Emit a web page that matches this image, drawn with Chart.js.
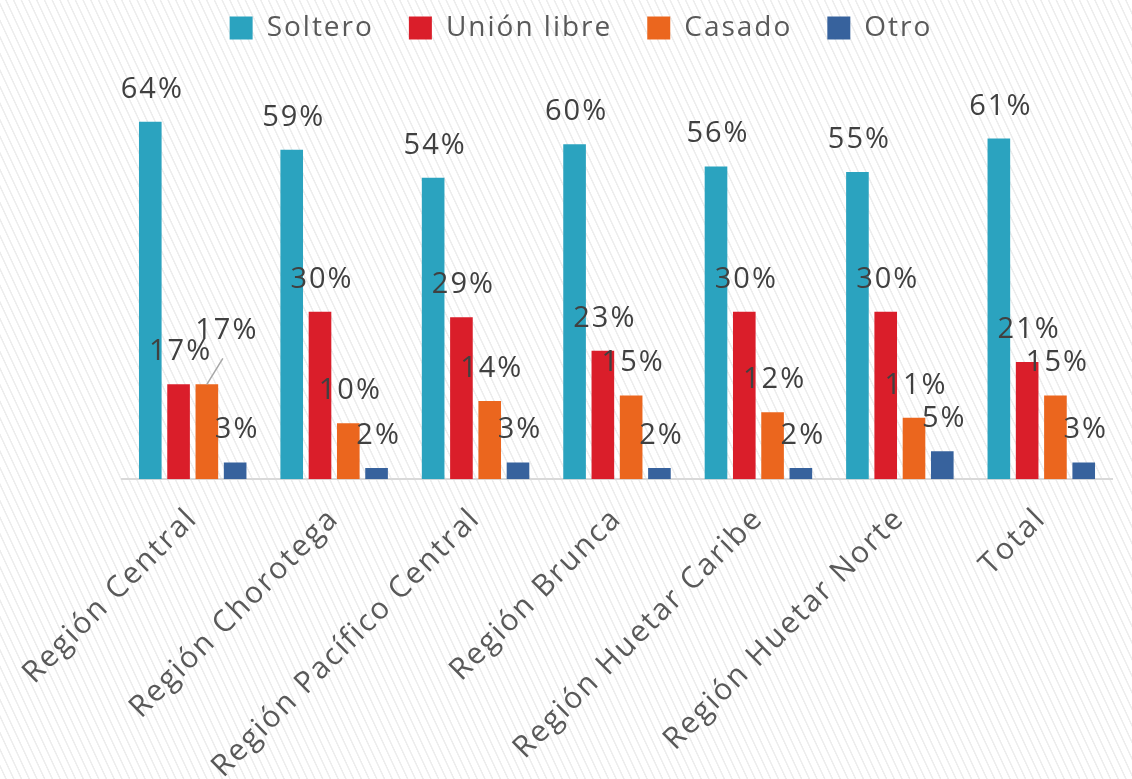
<!DOCTYPE html>
<html>
<head>
<meta charset="utf-8">
<script src="https://cdn.jsdelivr.net/npm/chart.js@4.4.1/dist/chart.umd.min.js"></script>
<style>
    html, body {
        margin: 0;
        padding: 0;
        width: 1132px;
        height: 779px;
        overflow: hidden;
        background-color: #ffffff;
        background-image: repeating-linear-gradient(65deg, #ffffff 0px, #ffffff 4.5px, #ededed 5px, #ededed 6px, #ffffff 6.5px, #ffffff 7px);
    }
    #wrap { position: relative; width: 1132px; height: 779px; }
</style>
</head>
<body>
<div id="wrap"><canvas id="chart"></canvas></div>
<script>
// Data
const regiones = ['Región Central', 'Región Chorotega', 'Región Pacífico Central', 'Región Brunca', 'Región Huetar Caribe', 'Región Huetar Norte', 'Total'];
const soltero = [64, 59, 54, 60, 56, 55, 61];
const unionLibre = [17, 30, 29, 23, 30, 30, 21];
const casado = [17, 10, 14, 15, 12, 11, 15];
const otro = [3, 2, 3, 2, 2, 5, 3];

const textColor = '#404040';
const fontFamily = "'Open Sans', 'Noto Sans', sans-serif";
const spacing = '2px';

// letter spacing has to be set again after every canvas resize
const spacingPlugin = {
    id: 'spacing',
    beforeLayout(chart) { chart.ctx.letterSpacing = spacing; },
    beforeDraw(chart) { chart.ctx.letterSpacing = spacing; }
};

// Value labels over the bars
const valueLabels = {
    id: 'valueLabels',
    afterDatasetsDraw(chart) {
        const ctx = chart.ctx;
        ctx.save();
        ctx.letterSpacing = spacing;
        ctx.font = '29px ' + fontFamily;
        ctx.fillStyle = textColor;
        ctx.textAlign = 'center';
        ctx.textBaseline = 'alphabetic';
        chart.data.datasets.forEach((ds, i) => {
            const meta = chart.getDatasetMeta(i);
            meta.data.forEach((bar, j) => {
                let x = bar.x + 2;
                let y = bar.y - 24;
                // the second 17% in Región Central was moved up with a leader line
                if (i === 2 && j === 0) {
                    ctx.save();
                    ctx.strokeStyle = '#a6a6a6';
                    ctx.lineWidth = 1.5;
                    ctx.beginPath();
                    ctx.moveTo(bar.x, bar.y);
                    ctx.lineTo(bar.x + 16, bar.y - 26);
                    ctx.stroke();
                    ctx.restore();
                    x += 18;
                    y -= 21;
                }
                ctx.fillText(ds.data[j] + '%', x, y);
            });
        });
        ctx.restore();
    }
};

new Chart(document.getElementById('chart'), {
    type: 'bar',
    data: {
        labels: regiones,
        datasets: [
            { label: 'Soltero', data: soltero, backgroundColor: '#2BA3BF' },
            { label: 'Unión libre', data: unionLibre, backgroundColor: '#DA1E2A' },
            { label: 'Casado', data: casado, backgroundColor: '#EB661E' },
            { label: 'Otro', data: otro, backgroundColor: '#37629D' }
        ]
    },
    options: {
        responsive: true,
        maintainAspectRatio: false,
        animation: false,
        categoryPercentage: 0.8,
        barPercentage: 0.8,
        layout: { padding: { top: -21, left: 50, right: 20, bottom: -20 } },
        plugins: {
            legend: {
                position: 'top',
                labels: {
                    boxWidth: 23,
                    boxHeight: 23,
                    padding: 35,
                    color: '#595959',
                    font: { family: fontFamily, size: 28 }
                }
            },
            tooltip: { enabled: false }
        },
        scales: {
            y: {
                display: false,
                min: 0,
                max: 76.5
            },
            x: {
                grid: { display: false },
                border: { display: true, color: '#d9d9d9', width: 2 },
                ticks: {
                    color: '#595959',
                    padding: 14,
                    minRotation: 45,
                    maxRotation: 45,
                    font: { family: fontFamily, size: 30 }
                },
                // keep the plot area starting where the original does
                afterFit(scale) {
                    scale.paddingLeft = Math.max(scale.paddingLeft, 122);
                }
            }
        }
    },
    plugins: [spacingPlugin, valueLabels]
});
</script>
</body>
</html>
